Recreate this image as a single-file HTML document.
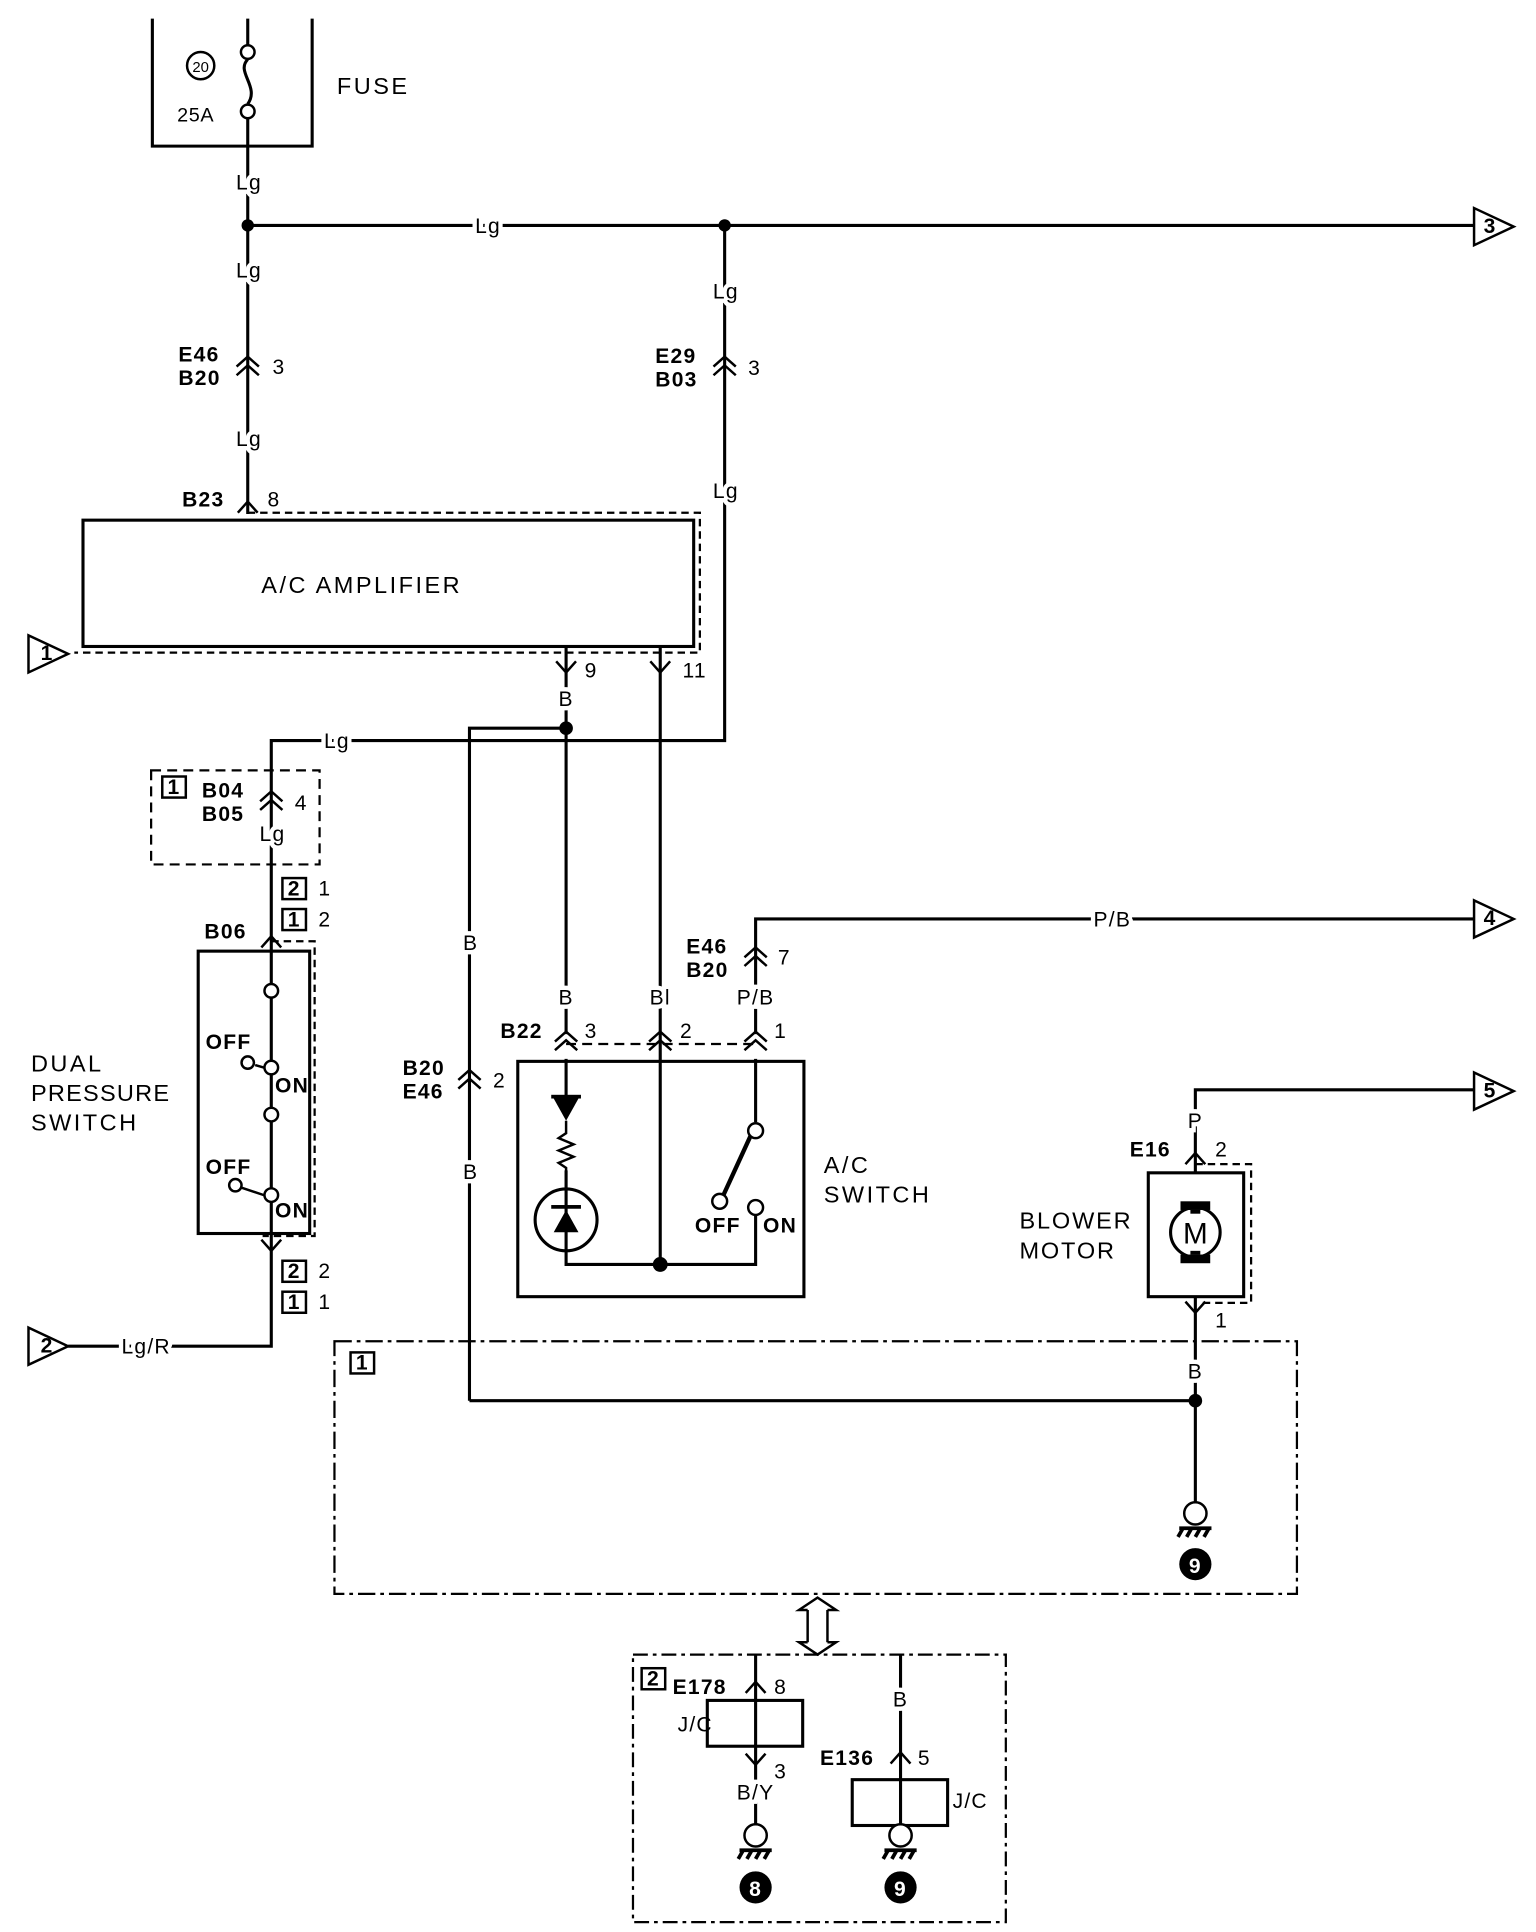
<!DOCTYPE html>
<html><head><meta charset="utf-8"><style>
html,body{margin:0;padding:0;background:#fff}
svg{display:block}
text{font-family:"Liberation Sans",sans-serif;font-size:17px;letter-spacing:1px;fill:#000}
.b{font-weight:bold;letter-spacing:0.5px}
.w{paint-order:stroke;stroke:#fff;stroke-width:7px}
.big{font-size:19px;letter-spacing:2px}
.s{font-size:13px;font-weight:bold;letter-spacing:0}
</style></head><body>
<svg width="1536" height="1932" viewBox="0 0 1240 1560" preserveAspectRatio="none" xmlns="http://www.w3.org/2000/svg">
<defs>
<g id="dc" fill="none" stroke="#000" stroke-width="2"><path d="M-9 3 L0 -5 L9 3 M-9 10 L0 2 L9 10"/></g>
<g id="sc" fill="none" stroke="#000" stroke-width="2"><path d="M-8 5 L0 -4 L8 5"/></g>
<g id="dn" fill="none" stroke="#000" stroke-width="2"><path d="M-8 -4 L0 5 L8 -4"/></g>
<g id="gnd" fill="none" stroke="#000" stroke-width="2"><circle cx="0" cy="0" r="9" fill="#fff"/><path d="M-13 12 H13 M-10 12 l-4 7 M-3 12 l-4 7 M4 12 l-4 7 M11 12 l-4 7" stroke-width="3"/></g>
<g id="tri" fill="#fff" stroke="#000" stroke-width="2"><path d="M0 -15 L32 0 L0 15 Z"/></g>
</defs>
<g fill="none" stroke="#000" stroke-width="2.5">
<path d="M123 15 V118 H252 V15"/>
<path d="M200 15 V36 M200 48 C190 58 210 70 200 84 M200 96 V415"/>
<circle cx="200" cy="42" r="5.5" stroke-width="2"/><circle cx="200" cy="90" r="5.5" stroke-width="2"/>
<circle cx="162" cy="53" r="11" stroke-width="2"/>
<path d="M200 182 H1190"/>
<path d="M585 182 V598 H219 V1087 H55"/>
<rect x="67" y="420" width="493" height="102"/>
<path d="M200 414 H565 V527 H60" stroke-dasharray="6 4" stroke-width="1.8"/>
<path d="M457 522 V835 M533 522 V1021 M379 1131 V588 H457 M379 1131 H965"/>
<path d="M122 622 H258 V698 H122 Z" stroke-dasharray="8 5" stroke-width="1.8"/>
<rect x="160" y="768" width="90" height="228"/>
<path d="M219 760 H254 V998 H212" stroke-dasharray="6 4" stroke-width="1.8"/>
<path d="M610 835 V742 H1190"/>
<path d="M457 843 H610" stroke-dasharray="8 5" stroke-width="1.8"/>
<rect x="418" y="857" width="231" height="190"/>
<path d="M610 855 V906 M457 855 V887 M457 945 V1021 H610 V980"/>
<path d="M606 917 L584 965" stroke-width="3.5"/>
<path d="M457 905 V915 l-6 4 l12 5 l-12 5 l12 5 l-12 5 l6 4 V960" stroke-width="2"/>
<circle cx="457" cy="985" r="25"/>
<path d="M965 1215 V880 H1190"/>
<rect x="927" y="947" width="77" height="100" fill="#fff"/>
<path d="M965 940 H1010 V1052 H970" stroke-dasharray="6 4" stroke-width="1.8"/>
<circle cx="965" cy="995" r="20"/>
<path d="M270 1083 H1047 V1287 H270 Z" stroke-dasharray="14 4 3 4" stroke-width="1.8"/>
<path d="M511 1336 H812 V1552 H511 Z" stroke-dasharray="12 4 3 4" stroke-width="1.8"/>
<path d="M610 1336 V1475 M727 1336 V1475"/>
<rect x="571" y="1373" width="77" height="37" fill="none"/>
<rect x="688" y="1437" width="77" height="37" fill="none"/>
<path d="M652 1300 V1326 M668 1300 V1326 M652 1300 L645 1300 L660 1290 L675 1300 L668 1300 M652 1326 L645 1326 L660 1336 L675 1326 L668 1326" stroke-width="2"/>
</g>
<g fill="#fff" stroke="#000" stroke-width="2">
<circle cx="219" cy="800" r="5.5"/><circle cx="219" cy="862" r="5.5"/><circle cx="200" cy="858" r="5"/>
<circle cx="219" cy="900" r="5.5"/><circle cx="219" cy="965" r="5.5"/><circle cx="190" cy="957" r="5"/>
<circle cx="610" cy="913" r="6"/><circle cx="581" cy="970" r="6"/><circle cx="610" cy="975" r="6"/>
</g>
<path d="M206 860 L213 862 M195 959 L213 965" stroke="#000" stroke-width="2"/>
<g fill="#000">
<circle cx="200" cy="182" r="5"/><circle cx="585" cy="182" r="5"/><circle cx="457" cy="588" r="5.5"/>
<circle cx="533" cy="1021" r="6"/><circle cx="965" cy="1131" r="5.5"/>
<path d="M447 887 H467 L457 905 Z"/><rect x="445" y="884" width="24" height="3"/>
<path d="M447 995 H467 L457 977 Z" /><rect x="445" y="973" width="24" height="3"/>
<rect x="953" y="970" width="24" height="7"/><rect x="953" y="1013" width="24" height="7"/>
<rect x="961" y="977" width="8" height="3"/><rect x="961" y="1010" width="8" height="3"/>
<circle cx="965" cy="1263" r="13"/><circle cx="610" cy="1524" r="13"/><circle cx="727" cy="1524" r="13"/>
</g>
<use href="#gnd" x="965" y="1222"/><use href="#gnd" x="610" y="1482"/><use href="#gnd" x="727" y="1482"/>
<use href="#tri" x="1190" y="183"/><use href="#tri" x="1190" y="742"/><use href="#tri" x="1190" y="881"/>
<use href="#tri" x="23" y="528"/><use href="#tri" x="23" y="1087"/>
<use href="#dc" x="200" y="293"/><use href="#dc" x="585" y="293"/><use href="#dc" x="219" y="644"/>
<use href="#dc" x="379" y="869"/><use href="#dc" x="610" y="770"/>
<use href="#dc" x="457" y="838"/><use href="#dc" x="533" y="838"/><use href="#dc" x="610" y="838"/>
<use href="#sc" x="200" y="409"/><use href="#sc" x="219" y="760"/><use href="#sc" x="965" y="935"/><use href="#sc" x="610" y="1362"/><use href="#sc" x="727" y="1419"/>
<use href="#dn" x="457" y="538"/><use href="#dn" x="533" y="538"/><use href="#dn" x="219" y="1005"/><use href="#dn" x="965" y="1055"/><use href="#dn" x="610" y="1420"/>
<g fill="none" stroke="#000" stroke-width="2">
<rect x="131" y="627" width="19" height="17"/><rect x="228" y="709" width="19" height="17"/><rect x="228" y="734" width="19" height="17"/>
<rect x="228" y="1018" width="19" height="17"/><rect x="228" y="1043" width="19" height="17"/><rect x="283" y="1092" width="19" height="17"/><rect x="518" y="1347" width="19" height="17"/>
</g>
<g class="s" text-anchor="middle">
<text x="140.5" y="641">1</text><text x="237.5" y="723">2</text><text x="237.5" y="748">1</text><text x="237.5" y="1032">2</text><text x="237.5" y="1057">1</text><text x="292.5" y="1106">1</text><text x="527.5" y="1361">2</text>
</g>
<text x="162" y="58" text-anchor="middle" style="font-size:12px;letter-spacing:0">20</text>
<text x="143" y="98" style="font-size:16px;letter-spacing:0.5px">25A</text>
<text x="272" y="76" class="big">FUSE</text>
<g text-anchor="middle" class="w">
<text x="201" y="153">Lg</text><text x="201" y="224">Lg</text><text x="201" y="360">Lg</text>
<text x="394" y="188">Lg</text><text x="586" y="241">Lg</text><text x="586" y="402">Lg</text>
<text x="272" y="604">Lg</text><text x="220" y="679">Lg</text>
<text x="457" y="570">B</text><text x="457" y="811">B</text><text x="533" y="811">Bl</text><text x="610" y="811">P/B</text>
<text x="380" y="767">B</text><text x="380" y="952">B</text>
<text x="898" y="748">P/B</text><text x="965" y="911">P</text><text x="965" y="1113">B</text>
<text x="118" y="1093">Lg/R</text><text x="727" y="1378">B</text><text x="610" y="1453">B/Y</text>
</g>
<g class="b">
<text x="144" y="292">E46</text><text x="144" y="311">B20</text>
<text x="529" y="293">E29</text><text x="529" y="312">B03</text>
<text x="147" y="409">B23</text>
<text x="163" y="644">B04</text><text x="163" y="663">B05</text>
<text x="165" y="758">B06</text>
<text x="325" y="868">B20</text><text x="325" y="887">E46</text>
<text x="554" y="770">E46</text><text x="554" y="789">B20</text>
<text x="404" y="838">B22</text>
<text x="912" y="934">E16</text>
<text x="543" y="1368">E178</text><text x="662" y="1425">E136</text>
</g>
<text x="220" y="302">3</text><text x="604" y="303">3</text><text x="216" y="409">8</text>
<text x="238" y="654">4</text><text x="257" y="723">1</text><text x="257" y="748">2</text>
<text x="257" y="1032">2</text><text x="257" y="1057">1</text>
<text x="472" y="547">9</text><text x="551" y="547">11</text>
<text x="398" y="878">2</text><text x="628" y="779">7</text>
<text x="472" y="838">3</text><text x="549" y="838">2</text><text x="625" y="838">1</text>
<text x="981" y="934">2</text><text x="981" y="1072">1</text>
<text x="625" y="1368">8</text><text x="625" y="1436">3</text><text x="741" y="1425">5</text>
<text x="292" y="479" text-anchor="middle" class="big">A/C AMPLIFIER</text>
<text x="25" y="865" class="big">DUAL</text><text x="25" y="889" class="big" style="letter-spacing:1px">PRESSURE</text><text x="25" y="913" class="big">SWITCH</text>
<text x="665" y="947" class="big">A/C</text><text x="665" y="971" class="big">SWITCH</text>
<text x="823" y="992" class="big" style="letter-spacing:1.5px">BLOWER</text><text x="823" y="1016" class="big" style="letter-spacing:1.5px">MOTOR</text>
<text x="965" y="1004" text-anchor="middle" style="font-size:24px;letter-spacing:0">M</text>
<text x="547" y="1398">J/C</text><text x="769" y="1460">J/C</text>
<g style="font-size:12px;font-weight:bold;letter-spacing:0">
<text x="166" y="847">OFF</text><text x="222" y="882">ON</text>
<text x="166" y="948">OFF</text><text x="222" y="983">ON</text>
<text x="561" y="995">OFF</text><text x="616" y="995">ON</text>
</g>
<g text-anchor="middle" style="font-size:14px;letter-spacing:0" font-weight="bold">
<text x="38" y="533">1</text><text x="38" y="1092">2</text><text x="1203" y="188">3</text><text x="1203" y="747">4</text><text x="1203" y="886">5</text>
</g>
<g text-anchor="middle" style="font-size:18px;font-weight:bold;letter-spacing:0">
<text x="965" y="1270" style="fill:#fff">9</text><text x="610" y="1531" style="fill:#fff">8</text><text x="727" y="1531" style="fill:#fff">9</text>
</g>
</svg>
</body></html>
